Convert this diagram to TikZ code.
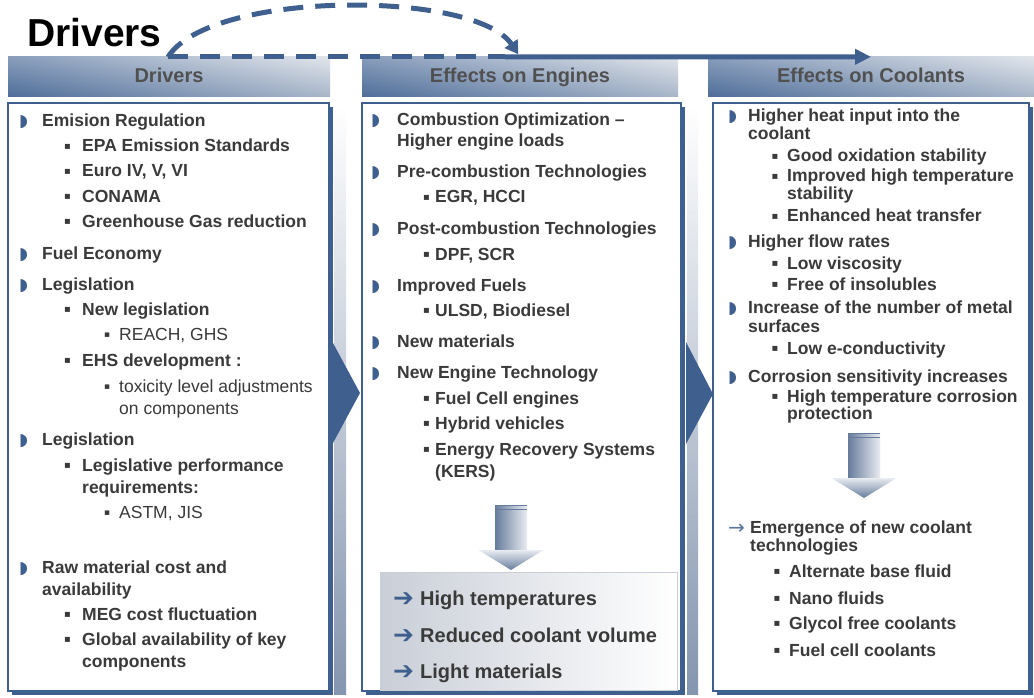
\documentclass[tikz,border=0pt]{standalone}
\usepackage{fontspec}
\setmainfont{Liberation Sans}
\newfontfamily\symfont{DejaVu Sans}
\usetikzlibrary{arrows.meta,shadows}

\definecolor{navy}{HTML}{3F608E}
\definecolor{ink}{HTML}{3A3A3A}
\definecolor{hdrtext}{HTML}{505050}
\definecolor{hdrdark}{HTML}{55739E}
\definecolor{hdrlight}{HTML}{D5DBE3}
\definecolor{bandgray}{HTML}{8495AF}
\definecolor{arrowgray}{HTML}{667C9C}
\definecolor{arrowlight}{HTML}{E9ECF1}
\definecolor{boxgray}{HTML}{C9CED7}

% list markers, placed left of the item text
\def\offA{23pt}\def\offB{18pt}\def\offC{15pt}\def\offR{27pt}
\newcommand\mA{\llap{\makebox[\offA][l]{\smash{\color{navy}\symfont\fontsize{17}{17}\selectfont ◗}}}}
\newcommand\mB{\llap{\makebox[\offB][l]{\raisebox{2.5pt}{\symfont\fontsize{10}{10}\selectfont ▪}}}}
\newcommand\mC{\llap{\makebox[\offC][l]{\raisebox{2.5pt}{\symfont\fontsize{9}{9}\selectfont ▪}}}\mdseries}
\newcommand\mR{\llap{\makebox[\offR][l]{\smash{\color{navy}\symfont\fontsize{25}{25}\selectfont\raisebox{-1pt}{➔}}}}}
\newcommand\mT{\llap{\makebox[\offR][l]{\smash{\color{navy!85}\symfont\mdseries\fontsize{20}{20}\selectfont\raisebox{-1pt}{→}}}}}

\tikzset{
  blockdown/.pic={
    \shade[left color=arrowgray, right color=arrowlight] (-16,0) rectangle (16,46);
    \shade[top color=arrowlight, bottom color=arrowgray] (-32.5,45) -- (32.5,45) -- (0,65) -- cycle;
    \draw[arrowgray, line width=.8pt] (-16,.5) -- (16,.5) (-16,4.5) -- (16,4.5);
  }
}

\begin{document}
\begin{tikzpicture}[x=1pt, y=-1pt,
    txt/.style={anchor=base west, inner sep=0, text=ink,
      font=\bfseries\fontsize{17.5}{20}\selectfont},
    big/.style={txt, font=\bfseries\fontsize{20}{24}\selectfont},
    hdr/.style={inner sep=0, minimum height=40pt, text height=14.3pt, text depth=3pt,
      left color=hdrdark, right color=hdrlight, text=hdrtext,
      font=\bfseries\fontsize{20}{24}\selectfont,
      path picture={\shade[top color=white, bottom color=navy, opacity=.3]
        (path picture bounding box.south west) rectangle (path picture bounding box.north east);}},
    panel/.style={draw=navy, line width=1.5pt, fill=white, minimum height=588pt,
      drop shadow={shadow xshift=4pt, shadow yshift=-4pt, fill=navy, opacity=1}},
    dashlink/.style={navy, line width=5pt, dash pattern=on 20pt off 12pt},
    solidlink/.style={navy, line width=5pt, -{Triangle[length=16pt,width=15pt]}}]
  \useasboundingbox (0,0) rectangle (1034,698);

  \node[hdr, minimum width=322pt] (hdA) at (169,77) {Drivers};
  \node[hdr, minimum width=316pt] (hdB) at (520,77) {Effects on Engines};
  \node[hdr, minimum width=326pt] (hdC) at (871,77) {Effects on Coolants};

  \node[panel, minimum width=321pt] (pA) at (168.5,397) {};
  \node[panel, minimum width=319pt] (pB) at (521.5,397) {};
  \node[panel, minimum width=316pt] (pC) at (871,397) {};

  % chevrons between the columns
  \fill[top color=white, bottom color=bandgray] (334,106) rectangle (346,694);
  \fill[top color=white, bottom color=bandgray] (687,106) rectangle (698,694);
  \fill[navy] (333,343) -- (360,393) -- (333,443) -- cycle;
  \fill[navy] (686,342) -- (713,394) -- (686,444) -- cycle;

  \node[left color=boxgray, right color=white, draw=boxgray, line width=.6pt,
    minimum width=297pt, minimum height=118pt] (sub) at (528.5,631) {};
  \pic at (511,505) {blockdown};
  \pic at (864,433) {blockdown};

  \foreach \y/\x/\t [count=\i] in {
      127/42/{\mA Emision Regulation},
      152/82/{\mB EPA Emission Standards},
      177/82/{\mB Euro IV, V, VI},
      202/82/{\mB CONAMA},
      227/82/{\mB Greenhouse Gas reduction},
      259/42/{\mA Fuel Economy},
      290/42/{\mA Legislation},
      315/82/{\mB New legislation},
      340/119/{\mC REACH, GHS},
      366/82/{\mB EHS development :},
      392/119/{\mC toxicity level adjustments},
      414/119/{\mdseries on components},
      445/42/{\mA Legislation},
      471/82/{\mB Legislative performance},
      493/82/{requirements:},
      518/119/{\mC ASTM, JIS},
      573/42/{\mA Raw material cost and},
      595/42/{availability},
      620/82/{\mB MEG cost fluctuation},
      645/82/{\mB Global availability of key},
      667/82/{components}}
    \node[txt] (drv\i) at (\x,\y) {\t};

  \def\offA{26pt}\def\offB{12pt}
  \foreach \y/\x/\t [count=\i] in {
      126/397/{\mA Combustion Optimization –},
      147/397/{Higher engine loads},
      178/397/{\mA Pre-combustion Technologies},
      203/435/{\mB EGR, HCCI},
      234/397/{\mA Post-combustion Technologies},
      260/435/{\mB DPF, SCR},
      291/397/{\mA Improved Fuels},
      316/435/{\mB ULSD, Biodiesel},
      347/397/{\mA New materials},
      378/397/{\mA New Engine Technology},
      404/435/{\mB Fuel Cell engines},
      429/435/{\mB Hybrid vehicles},
      455/435/{\mB Energy Recovery Systems},
      477/435/{(KERS)}}
    \node[txt] (eng\i) at (\x,\y) {\t};
  \foreach \y/\t [count=\i] in {605/High temperatures, 642/Reduced coolant volume, 678/Light materials}
    \node[big] (res\i) at (420,\y) {\mR \t};

  \def\offA{20pt}\def\offB{15.5pt}\def\offR{22pt}
  \foreach \y/\x/\t [count=\i] in {
      122/748/{\mA Higher heat input into the},
      140/748/{coolant},
      162/787/{\mB Good oxidation stability},
      182/787/{\mB Improved high temperature},
      200/787/{stability},
      222/787/{\mB Enhanced heat transfer},
      247/748/{\mA Higher flow rates},
      269/787/{\mB Low viscosity},
      290/787/{\mB Free of insolubles},
      313/748/{\mA Increase of the number of metal},
      332/748/{surfaces},
      354/787/{\mB Low e-conductivity},
      382/748/{\mA Corrosion sensitivity increases},
      402/787/{\mB High temperature corrosion},
      419/787/{protection},
      533/750/{\mT Emergence of new coolant},
      551/750/{technologies},
      577/789/{\mB Alternate base fluid},
      604/789/{\mB Nano fluids},
      629/789/{\mB Glycol free coolants},
      656/789/{\mB Fuel cell coolants}}
    \node[txt] (cool\i) at (\x,\y) {\t};

  \node[anchor=base west, inner sep=0, font=\bfseries\fontsize{39}{44}\selectfont] (title) at (27,47) {Drivers};
  \coordinate (fork) at (168,57);
  \coordinate (turn) at (505,57);
  \draw[dashlink] (fork) -- (turn);
  \draw[dashlink, shorten >=3pt, -{Triangle[length=13pt,width=15pt]}]
    (fork) .. controls (210,-10) and (475,-10) .. (hdB.north);
  \draw[solidlink] (turn) -- (hdC.north);
\end{tikzpicture}
\end{document}
